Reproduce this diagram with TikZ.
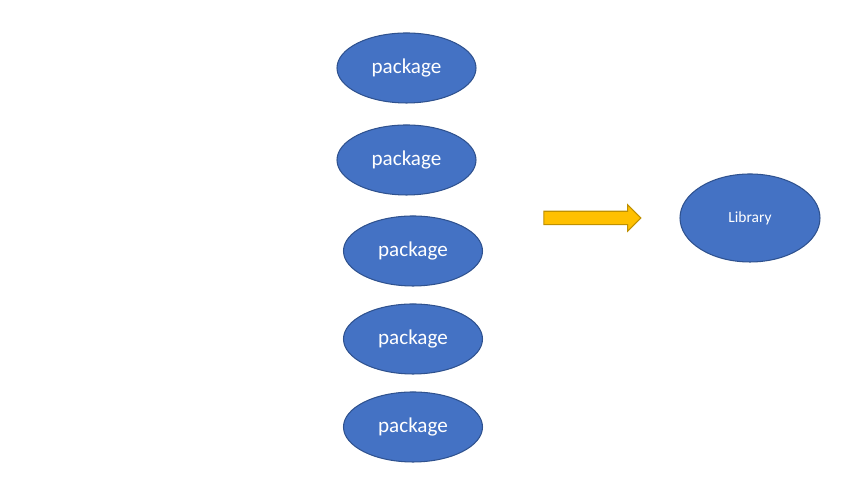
\documentclass[tikz,border=0pt]{standalone}
\usepackage{fontspec}
\setmainfont{Carlito}
\usetikzlibrary{shapes.geometric,shapes.arrows}
\definecolor{pkgblue}{HTML}{4472C4}
\definecolor{pkgedge}{HTML}{2F528F}
\definecolor{arrowfill}{HTML}{FFC000}
\definecolor{arrowedge}{HTML}{BF9000}
\tikzset{
  pkg/.style={ellipse,draw=pkgedge,fill=pkgblue,line width=0.3pt,text=white,
    minimum width=1.39cm,minimum height=0.70cm,inner sep=0pt,
    font=\fontsize{6}{7}\selectfont},
  lib/.style={pkg,minimum width=1.40cm,minimum height=0.88cm,
    font=\fontsize{4.4}{5}\selectfont},
  blockarrow/.style={single arrow,draw=arrowedge,fill=arrowfill,line width=0.3pt,
    minimum height=0.97cm,inner xsep=0pt,inner ysep=0.062cm,
    single arrow head extend=0.065cm,single arrow tip angle=90}
}
\begin{document}
\begin{tikzpicture}
\useasboundingbox (0,0) rectangle (8.54,4.8);
\node[pkg] (p1) at (4.065,4.12) {package};
\node[pkg] (p2) at (4.065,3.20) {package};
\node[pkg] (p3) at (4.13,2.29) {package};
\node[pkg] (p4) at (4.13,1.41) {package};
\node[pkg] (p5) at (4.13,0.53) {package};
\node[blockarrow] (arr) at (5.89,2.62) {};
\node[lib] (lib) at (7.50,2.62) {Library};
\end{tikzpicture}
\end{document}
